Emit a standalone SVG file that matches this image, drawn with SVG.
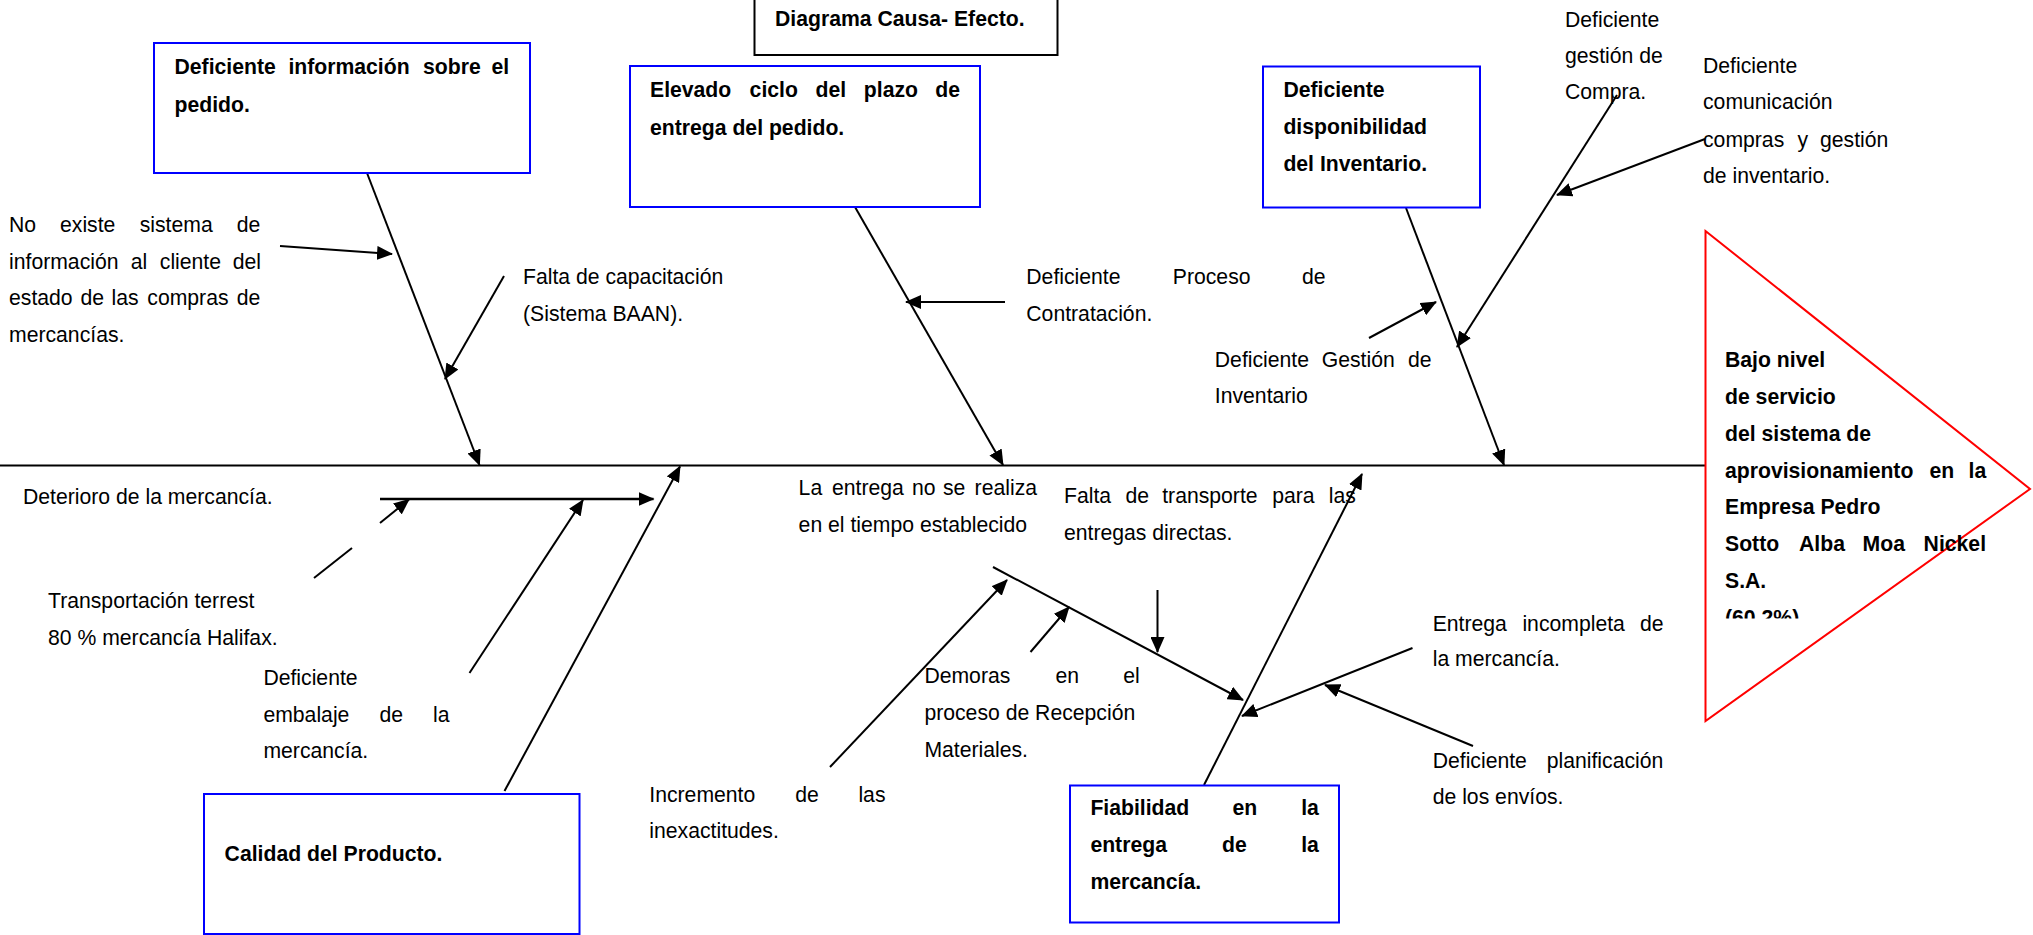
<svg xmlns="http://www.w3.org/2000/svg" width="2033" height="935" viewBox="0 0 2033 935">
<style>
text{font-family:"Liberation Sans",Arial,sans-serif;font-size:21.2px;fill:#000}
.b{font-weight:bold}
.box{fill:#fff;stroke:#0000ff;stroke-width:2}
.ln{stroke:#000;stroke-width:2;fill:none}
.ar{marker-end:url(#ah)}
</style>
<defs>
<marker id="ah" markerUnits="userSpaceOnUse" markerWidth="16" markerHeight="14" refX="15" refY="7" orient="auto"><path d="M0,0 L16,7 L0,14 z" fill="#000"/></marker>
<clipPath id="tc"><rect x="1700" y="330" width="330" height="288.5"/></clipPath>
</defs>
<rect x="0" y="0" width="2033" height="935" fill="#fff"/>

<g id="title">
<rect x="754.5" y="-2" width="303" height="57" fill="#fff" stroke="#000" stroke-width="2"/>
<text class="b" x="775" y="26">Diagrama Causa- Efecto.</text>
</g>

<g id="connectors">
<line class="ln" x1="0" y1="465.5" x2="1705" y2="465.5"/>
<line class="ln ar" x1="367" y1="173" x2="479.5" y2="465"/>
<line class="ln ar" x1="855" y1="207" x2="1003" y2="465"/>
<line class="ln ar" x1="1406" y1="208" x2="1504" y2="465"/>
<line class="ln ar" x1="504.5" y1="791" x2="680" y2="466.5"/>
<line class="ln ar" x1="1204" y1="785" x2="1362" y2="474"/>
<line class="ln ar" x1="280" y1="246" x2="392" y2="254"/>
<line class="ln ar" x1="504" y1="276" x2="445" y2="379"/>
<line class="ln ar" x1="1005" y1="302" x2="906" y2="302"/>
<line class="ln ar" x1="1369" y1="338" x2="1436" y2="302"/>
<line class="ln ar" x1="1617" y1="95" x2="1457" y2="347"/>
<line class="ln ar" x1="1705" y1="139" x2="1557" y2="195"/>
<line class="ln ar" x1="380" y1="499" x2="653.5" y2="499" style="stroke-width:2.5"/>
<line class="ln" x1="314" y1="578" x2="352" y2="548"/>
<line class="ln ar" x1="380" y1="523" x2="409" y2="499.5"/>
<line class="ln ar" x1="469.5" y1="673" x2="583" y2="500"/>
<line class="ln ar" x1="830" y1="767" x2="1007" y2="580"/>
<line class="ln ar" x1="993" y1="567" x2="1243" y2="700"/>
<line class="ln ar" x1="1030.5" y1="652" x2="1069" y2="607"/>
<line class="ln ar" x1="1157.5" y1="590" x2="1157.5" y2="652"/>
<line class="ln ar" x1="1412.5" y1="648" x2="1242" y2="716"/>
<line class="ln ar" x1="1473" y1="746" x2="1325" y2="685"/>
</g>

<g id="box1">
<rect class="box" x="154" y="43" width="376" height="130"/>
<text class="b" y="73.5"><tspan x="174.5">Deficiente</tspan><tspan x="288.4">información</tspan><tspan x="423">sobre</tspan><tspan x="491.5">el</tspan></text>
<text class="b" x="174.5" y="111.5">pedido.</text>
</g>

<g id="box2">
<rect class="box" x="630" y="66" width="350" height="141"/>
<text class="b" y="97"><tspan x="650">Elevado</tspan><tspan x="749.6">ciclo</tspan><tspan x="815.6">del</tspan><tspan x="863.8">plazo</tspan><tspan x="935.2">de</tspan></text>
<text class="b" x="650" y="134.5">entrega del pedido.</text>
</g>

<g id="box3">
<rect class="box" x="1263" y="66.5" width="217" height="141"/>
<text class="b" x="1283.4" y="96.7">Deficiente</text>
<text class="b" x="1283.4" y="134">disponibilidad</text>
<text class="b" x="1283.4" y="171">del Inventario.</text>
</g>

<g id="box4">
<rect class="box" x="204" y="794" width="375.5" height="140"/>
<text class="b" x="224.6" y="861">Calidad del Producto.</text>
</g>

<g id="box5">
<rect class="box" x="1070" y="785.5" width="269" height="137"/>
<text class="b" y="815"><tspan x="1090.4">Fiabilidad</tspan><tspan x="1232.5">en</tspan><tspan x="1301.2">la</tspan></text>
<text class="b" y="852"><tspan x="1090.4">entrega</tspan><tspan x="1222">de</tspan><tspan x="1301.2">la</tspan></text>
<text class="b" x="1090.4" y="889.3">mercancía.</text>
</g>

<g id="effect">
<polygon points="1705.5,231 2030,489 1705.5,721" fill="none" stroke="#ff0000" stroke-width="2"/>
<g clip-path="url(#tc)">
<text class="b" x="1725" y="367">Bajo nivel</text>
<text class="b" x="1725" y="404">de servicio</text>
<text class="b" x="1725" y="441">del sistema de</text>
<text class="b" y="477.5"><tspan x="1725">aprovisionamiento</tspan><tspan x="1929.4">en</tspan><tspan x="1968.5">la</tspan></text>
<text class="b" x="1725" y="514">Empresa Pedro</text>
<text class="b" y="551"><tspan x="1725">Sotto</tspan><tspan x="1799">Alba</tspan><tspan x="1862.6">Moa</tspan><tspan x="1923.6">Nickel</tspan></text>
<text class="b" x="1725" y="587.5">S.A.</text>
<text class="b" x="1725" y="624.5">(60,2%)</text>
</g>
</g>

<g id="cause-noexiste">
<text y="232.3"><tspan x="9">No</tspan><tspan x="60">existe</tspan><tspan x="139.7">sistema</tspan><tspan x="236.8">de</tspan></text>
<text y="268.5"><tspan x="9">información</tspan><tspan x="130.8">al</tspan><tspan x="159.8">cliente</tspan><tspan x="232.8">del</tspan></text>
<text y="305"><tspan x="9">estado</tspan><tspan x="80.4">de</tspan><tspan x="111.6">las</tspan><tspan x="147.3">compras</tspan><tspan x="236.8">de</tspan></text>
<text x="9" y="341.7">mercancías.</text>
</g>

<g id="cause-capacitacion">
<text x="523" y="284">Falta de capacitación</text>
<text x="523" y="320.7">(Sistema BAAN).</text>
</g>

<g id="cause-contratacion">
<text y="284"><tspan x="1026.3">Deficiente</tspan><tspan x="1172.8">Proceso</tspan><tspan x="1302">de</tspan></text>
<text x="1026.3" y="320.7">Contratación.</text>
</g>

<g id="cause-gestion-inventario">
<text y="366.7"><tspan x="1214.8">Deficiente</tspan><tspan x="1321.7">Gestión</tspan><tspan x="1408">de</tspan></text>
<text x="1214.8" y="403.3">Inventario</text>
</g>

<g id="cause-compra">
<text x="1565" y="26.7">Deficiente</text>
<text x="1565" y="62.5">gestión de</text>
<text x="1565" y="99.3">Compra.</text>
</g>

<g id="cause-comunicacion">
<text x="1703" y="72.7">Deficiente</text>
<text x="1703" y="109.3">comunicación</text>
<text y="146.5"><tspan x="1703">compras</tspan><tspan x="1797.5">y</tspan><tspan x="1820">gestión</tspan></text>
<text x="1703" y="183.3">de inventario.</text>
</g>

<g id="cause-deterioro">
<text x="23" y="504">Deterioro de la mercancía.</text>
</g>

<g id="cause-transportacion">
<text x="48" y="608.3">Transportación terrest</text>
<text x="48" y="645">80 % mercancía Halifax.</text>
</g>

<g id="cause-embalaje">
<text x="263.4" y="684.5">Deficiente</text>
<text y="721.5"><tspan x="263.4">embalaje</tspan><tspan x="379.5">de</tspan><tspan x="433">la</tspan></text>
<text x="263.4" y="758.3">mercancía.</text>
</g>

<g id="cause-incremento">
<text y="801.7"><tspan x="649.3">Incremento</tspan><tspan x="795.2">de</tspan><tspan x="858.4">las</tspan></text>
<text x="649.3" y="838.3">inexactitudes.</text>
</g>

<g id="cause-entrega-tiempo">
<text y="495"><tspan x="798.6">La</tspan><tspan x="832">entrega</tspan><tspan x="912">no</tspan><tspan x="943">se</tspan><tspan x="974.6">realiza</tspan></text>
<text x="798.6" y="531.7">en el tiempo establecido</text>
</g>

<g id="cause-transporte">
<text y="503.3"><tspan x="1064">Falta</tspan><tspan x="1125.4">de</tspan><tspan x="1162.2">transporte</tspan><tspan x="1272.2">para</tspan><tspan x="1328.7">las</tspan></text>
<text x="1064" y="540">entregas directas.</text>
</g>

<g id="cause-demoras">
<text y="683.3"><tspan x="924.4">Demoras</tspan><tspan x="1055.5">en</tspan><tspan x="1123.2">el</tspan></text>
<text x="924.4" y="720">proceso de Recepción</text>
<text x="924.4" y="756.7">Materiales.</text>
</g>

<g id="cause-incompleta">
<text y="631"><tspan x="1432.7">Entrega</tspan><tspan x="1522.4">incompleta</tspan><tspan x="1640">de</tspan></text>
<text x="1432.7" y="666.4">la mercancía.</text>
</g>

<g id="cause-planificacion">
<text y="768"><tspan x="1432.7">Deficiente</tspan><tspan x="1546.7">planificación</tspan></text>
<text x="1432.7" y="804.3">de los envíos.</text>
</g>
</svg>
